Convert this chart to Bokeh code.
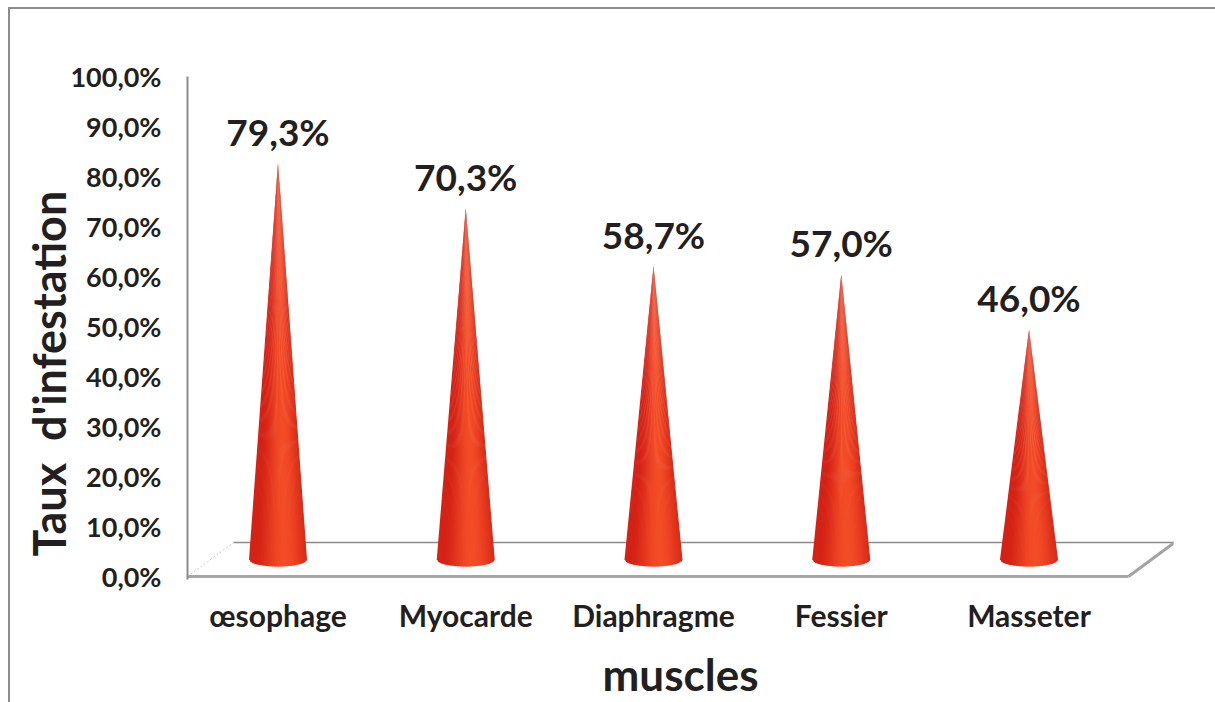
import math

from bokeh.plotting import figure
from bokeh.models import Range1d, FixedTicker, Title, InlineStyleSheet
from bokeh.core.properties import value
from bokeh.embed import file_html
from bokeh.resources import INLINE

# ---- data -------------------------------------------------------------
muscles = ["œsophage", "Myocarde", "Diaphragme", "Fessier", "Masseter"]
taux = [79.3, 70.3, 58.7, 57.0, 46.0]          # infestation rate, %
y_ticks = [0, 10, 20, 30, 40, 50, 60, 70, 80, 90, 100]


def pct(v):
    return f"{v:.1f}%".replace(".", ",")


# ---- layout (canvas pixels) ------------------------------------------
W, H = 1215, 702
FRAME_L, FRAME_R = 187, 1173
FRAME_T, FRAME_B = 76, 579
ZERO_PX = 576            # pixel row of 0 %
PX_PER_PCT = 5.0
CAT0_PX, CAT_STEP_PX = 277.5, 187.75


def xd(px):
    return (px - CAT0_PX) / CAT_STEP_PX


def yd(py):
    return (ZERO_PX - py) / PX_PER_PCT


FONT = value("Lato")
INK = "#231f20"

p = figure(
    width=W, height=H,
    x_range=Range1d(xd(FRAME_L), xd(FRAME_R)),
    y_range=Range1d(yd(FRAME_B), yd(FRAME_T)),
    output_backend="svg", toolbar_location=None,
    min_border_left=FRAME_L, min_border_right=W - FRAME_R,
    min_border_top=FRAME_T, min_border_bottom=H - FRAME_B,
)
p.background_fill_color = "white"
p.border_fill_color = "white"
p.outline_line_color = None
p.grid.visible = False

# thin grey border round the chart area (left and top edges show)
p.stylesheets = [InlineStyleSheet(css="""
:host::after {
  content: "";
  position: absolute;
  left: 8px; top: 7px; right: 0; bottom: 0;
  border-left: 2px solid #8c8c8c;
  border-top: 2px solid #8c8c8c;
  pointer-events: none;
}
""")]

# ---- 3D floor ---------------------------------------------------------
depth_x = 46 / CAT_STEP_PX          # receding offset of the floor
depth_y = 34 / PX_PER_PCT
fx0, fx1 = xd(187), xd(1128)

p.line([fx0 + depth_x, fx1 + depth_x], [depth_y, depth_y],
       line_color="#8a8a8a", line_width=1.5)
p.line([fx0, fx0 + depth_x], [0, depth_y],
       line_color="#cfcfcf", line_width=1, line_dash="2 2")
p.line([fx1, fx1 + depth_x], [0, depth_y],
       line_color="#a3a3a3", line_width=3)
p.line([fx0, fx1], [0, 0], line_color="#a6a6a6", line_width=3)

# ---- cones ------------------------------------------------------------
half_w = 29 / CAT_STEP_PX
base_c = depth_y / 2
ell = 7 / PX_PER_PCT
N = 40
dark = (212, 34, 22)
bright = (243, 76, 38)


def shade(t):
    theta = (t - 0.5) * math.pi
    k = max(0.0, math.cos(theta - 0.35))
    k = k ** 1.6
    r, g, b = (int(round(d + (bb - d) * k)) for d, bb in zip(dark, bright))
    return f"#{r:02x}{g:02x}{b:02x}"


def rim(t):
    return base_c - ell * math.sqrt(max(0.0, 1 - (2 * t - 1) ** 2))


xs, ys, cols = [], [], []
for i, v in enumerate(taux):
    tip = base_c + v
    for k in range(N):
        t0 = k / N
        t1 = min(1.0, (k + 1.6) / N)      # slight overlap hides seams
        xa = i - half_w + 2 * half_w * t0
        xb = i - half_w + 2 * half_w * t1
        xs.append([xa, xb, i])
        ys.append([rim(t0), rim(t1), tip])
        cols.append(shade((k + 0.5) / N))

p.patches(xs, ys, fill_color=cols, line_color=None)

# value labels above the tips
lift = 32 / PX_PER_PCT
p.text(x=list(range(len(taux))), y=[base_c + v + lift for v in taux],
       text=[pct(v) for v in taux], text_font=FONT, text_font_style="bold",
       text_font_size="37px", text_color=INK, text_align="center",
       text_baseline="alphabetic")

# ---- axes -------------------------------------------------------------
ya = p.yaxis[0]
ya.ticker = FixedTicker(ticks=y_ticks)
ya.major_label_overrides = {t: pct(t) for t in y_ticks}
ya.major_label_text_font = "Lato"
ya.major_label_text_font_style = "bold"
ya.major_label_text_font_size = "27px"
ya.major_label_text_color = INK
ya.major_label_standoff = 26
ya.axis_line_color = "#8c8c8c"
ya.axis_line_width = 2
ya.major_tick_in = 0
ya.major_tick_out = 0
ya.minor_tick_line_color = None

xa_ = p.xaxis[0]
xa_.ticker = FixedTicker(ticks=list(range(len(muscles))))
xa_.major_label_overrides = {i: m for i, m in enumerate(muscles)}
xa_.major_label_text_font = "Lato"
xa_.major_label_text_font_style = "bold"
xa_.major_label_text_font_size = "30px"
xa_.major_label_text_color = INK
xa_.major_label_standoff = 17
xa_.axis_line_color = None
xa_.major_tick_line_color = None
xa_.major_tick_in = 0
xa_.major_tick_out = 0
xa_.minor_tick_line_color = None
xa_.axis_label = "muscles"
xa_.axis_label_text_font = "Lato"
xa_.axis_label_text_font_style = "bold"
xa_.axis_label_text_font_size = "44px"
xa_.axis_label_text_color = INK
xa_.axis_label_standoff = 12

# vertical axis title, set apart from the tick labels
p.add_layout(Title(text="Taux \u00a0d'infestation", align="left", offset=23,
                   vertical_align="bottom", standoff=-16,
                   text_font="Lato", text_font_style="bold",
                   text_font_size="45px", text_color=INK), "left")

open("out.html", "w").write(file_html(p, INLINE))
